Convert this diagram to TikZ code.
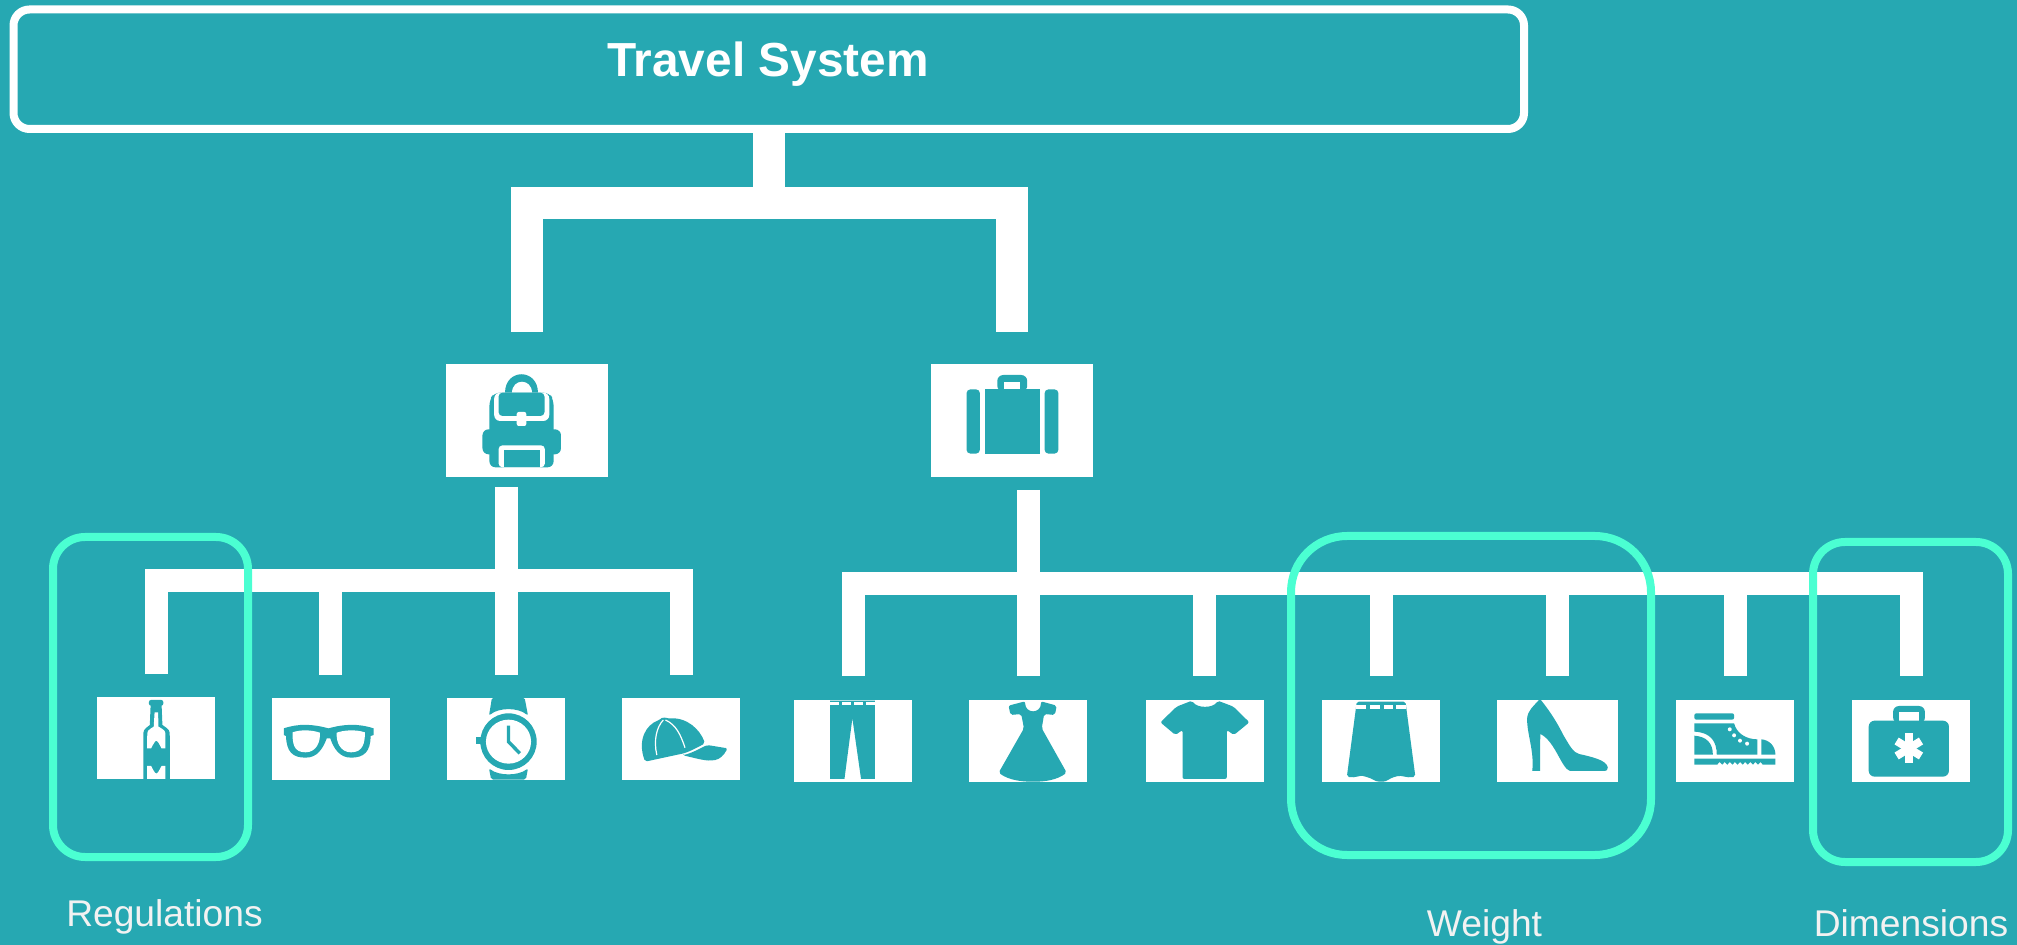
\documentclass[tikz,border=0pt]{standalone}
\usepackage{fontspec}
\setmainfont{Liberation Sans}
\definecolor{seateal}{HTML}{26A8B2}
\definecolor{mintline}{HTML}{4BFFD2}
\definecolor{softwhite}{HTML}{F2F2F2}
\tikzset{
	railthick/.style={draw=white, line width=16pt},
	railthin/.style={draw=white, line width=11.5pt},
	bigicon/.style={fill=white, outer sep=0pt, inner sep=0pt, minimum width=81pt, minimum height=56.5pt},
	smallicon/.style={fill=white, outer sep=0pt, inner sep=0pt, minimum width=59pt, minimum height=41pt},
	groupbox/.style={draw=mintline, line width=4pt, outer sep=0pt, inner sep=0pt},
	grouplabel/.style={anchor=base, text=softwhite, font=\fontsize{18.6}{22}\selectfont},
	traceA/.style={shift={(430,350)}, xscale=0.4337, yscale=0.3333},
	traceB/.style={shift={(80,680)}, xscale=0.4337, yscale=0.3333},
	traceC/.style={shift={(780,680)}, xscale=0.3954, yscale=0.3333},
	traceD/.style={shift={(1400,680)}, xscale=0.3935, yscale=0.3333},
	traceE/.style={shift={(1250,520)}, xscale=0.4892, yscale=0.3333},
}
\begin{document}
\begin{tikzpicture}[x=0.5pt, y=-0.5pt]

	\useasboundingbox (0,0) rectangle (2017,945);
	\fill[seateal] (0,0) rectangle (2017,945);

	\node[draw=white, line width=4pt, rounded corners=8pt, outer sep=0pt, inner sep=0pt, minimum width=755.25pt, minimum height=59.75pt] (system) at (768.75,69.25) {};
	\node[anchor=base, text=white, font=\fontsize{23.9}{28}\selectfont\bfseries] (systemtitle) at (768,77) {Travel System};

	\node[bigicon] (backpack) at (527,420.5) {};
	\node[bigicon] (suitcase) at (1012,420.5) {};

	\node[smallicon] (bottle) at (156,738) {};
	\node[smallicon] (glasses) at (330.5,738.5) {};
	\node[smallicon] (watch) at (506,738.5) {};
	\node[smallicon] (cap) at (681,739) {};

	\node[smallicon] (pants) at (853,741) {};
	\node[smallicon] (dress) at (1028,741) {};
	\node[smallicon] (tshirt) at (1204.5,741) {};
	\node[smallicon] (skirt) at (1381,741) {};
	\node[smallicon, minimum width=60.5pt] (heel) at (1557.5,741) {};
	\node[smallicon] (shoe) at (1735,741) {};
	\node[smallicon] (medkit) at (1911,741) {};

	\coordinate (toprail) at (0,203);
	\coordinate (bagrail) at (0,580.5);
	\coordinate (caserail) at (0,583.25);

	\draw[railthick] (system.south) -- (system.south |- toprail);
	\draw[railthick, shorten <=16pt, shorten >=16pt] (backpack.north) -- (backpack.north |- toprail) -- (suitcase.north |- toprail) -- (suitcase.north);

	\draw[railthin, shorten <=11.5pt, shorten >=11.5pt] (bottle.north) -- (bottle.north |- bagrail) -- (cap.north |- bagrail) -- (cap.north);
	\draw[railthin, shorten <=5pt, shorten >=11.5pt] (backpack.south -| watch.north) -- (watch.north);
	\draw[railthin, shorten >=11.5pt] (glasses.north |- bagrail) -- (glasses.north);

	\draw[railthin, shorten <=12pt, shorten >=12pt] (pants.north) -- (pants.north |- caserail) -- (medkit.north |- caserail) -- (medkit.north);
	\draw[railthin, shorten <=6.5pt, shorten >=12pt] (suitcase.south -| dress.north) -- (dress.north);
	\foreach \drop in {tshirt, skirt, heel, shoe} {
		\draw[railthin, shorten >=12pt] (\drop.north |- caserail) -- (\drop.north);
	}

	% backpack
	\begin{scope}[traceA]
		\fill[seateal] (172,128) .. controls (172,55) and (250,55) .. (250,128) -- cycle;
		\fill[white] (188,128) .. controls (188,85) and (235,85) .. (235,128) -- cycle;
		\fill[seateal, rounded corners=3pt] (137,352) -- (137,150) -- (148,128) -- (275,128) -- (285,150) -- (285,352) -- cycle;
		\fill[seateal, rounded corners=3pt] (121,238) rectangle (302,313);
		\fill[white, rounded corners=3pt] (148,128) -- (148,213) -- (275,213) -- (275,128) -- cycle;
		\fill[seateal, rounded corners=2pt] (158,128) -- (158,198) -- (264,198) -- (264,128) -- cycle;
		\fill[white, rounded corners=1pt] (200,186) rectangle (222,228);
		\fill[white, rounded corners=2pt] (158,352) -- (158,286) -- (265,286) -- (265,352) -- cycle;
		\fill[seateal] (170,352) rectangle (254,300);
	\end{scope}

	% suitcase
	\begin{scope}[traceA]
		\fill[seateal, rounded corners=3pt] (1308,125) -- (1308,75) -- (1377,75) -- (1377,125) -- cycle;
		\fill[white] (1324,118) rectangle (1361,97);
		\fill[seateal] (1279,118) rectangle (1407,311);
		\fill[seateal, rounded corners=2pt] (1237,118) rectangle (1268,311);
		\fill[seateal, rounded corners=2pt] (1417,118) rectangle (1449,311);
	\end{scope}

	% bottle, glasses, watch, cap
	\begin{scope}[traceB]
		\fill[seateal, rounded corners=1pt] (159,77) -- (159,60) -- (192,60) -- (192,77) -- cycle;
		\fill[seateal] (163,70) -- (188,70) -- (190,135) .. controls (207,150) .. (207,170) -- (207,297) -- (146,297) -- (146,170) .. controls (146,150) .. (161,135) -- cycle;
		\fill[white] (172,97) -- (180,97) -- (181,140) .. controls (197,152) .. (197,170) -- (197,205) -- (188,205) .. controls (176,175) .. (164,205) -- (155,205) -- (155,170) .. controls (155,152) .. (170,140) -- cycle;
		\fill[white] (155,258) -- (164,258) .. controls (176,288) .. (188,258) -- (197,258) -- (197,297) -- (155,297) -- cycle;

		\fill[seateal] (470,145) .. controls (505,130) and (535,132) .. (573,145) .. controls (610,132) and (640,130) .. (677,145) -- (677,165) -- (670,168) .. controls (670,215) and (655,233) .. (625,233) .. controls (598,233) and (585,205) .. (577,175) -- (569,175) .. controls (560,205) and (548,233) .. (520,233) .. controls (490,233) and (476,215) .. (475,168) -- (470,165) -- cycle;
		\fill[white] (490,157) .. controls (510,148) and (535,150) .. (553,158) .. controls (555,185) and (545,217) .. (520,217) .. controls (492,217) and (490,190) .. (490,157) -- cycle;
		\fill[white] (592,158) .. controls (610,150) and (635,148) .. (657,157) .. controls (657,190) and (652,217) .. (625,217) .. controls (600,217) and (590,185) .. (592,158) -- cycle;

		\fill[seateal, rounded corners=1pt] (950,52) -- (1025,52) -- (1033,107) .. controls (1010,82) and (966,82) .. (943,107) -- cycle;
		\fill[seateal, rounded corners=1pt] (943,265) .. controls (966,288) and (1010,288) .. (1033,265) -- (1028,299) -- (948,299) -- cycle;
		\fill[seateal] (913,170) rectangle (928,193);
		\fill[seateal] (988,185) ellipse [x radius=65, y radius=85];
		\fill[white] (988,185) ellipse [x radius=52, y radius=66];
		\draw[seateal, line width=1.7pt] (988,137) -- (988,185) -- (1014,220);

		\fill[seateal, rounded corners=1pt] (1303,245) .. controls (1285,180) and (1305,135) .. (1336,120) -- (1345,110) -- (1354,116) .. controls (1400,110) and (1430,150) .. (1441,190) .. controls (1420,205) and (1400,218) .. (1385,222) -- cycle;
		\fill[seateal, rounded corners=1pt] (1390,226) .. controls (1415,217) and (1430,205) .. (1446,195) -- (1493,205) .. controls (1485,225) and (1475,238) .. (1460,241) .. controls (1440,243) and (1415,233) .. (1390,226) -- cycle;
		\draw[white, line width=0.6pt] (1330,225) .. controls (1322,180) and (1330,140) .. (1345,120);
		\draw[white, line width=0.6pt] (1350,120) .. controls (1375,135) and (1385,165) .. (1395,203);
	\end{scope}

	% pants, dress, tshirt
	\begin{scope}[traceC]
		\fill[seateal] (127,62) -- (240,62) -- (240,297) -- (205,297) -- (183,115) -- (163,297) -- (127,297) -- cycle;
		\foreach \dashx in {127,158,188,218} {
			\fill[white] (\dashx,65) rectangle ++(22,10);
		}

		\fill[seateal, rounded corners=1pt] (578,77) -- (620,64) .. controls (620,102) and (660,102) .. (660,64) -- (700,77) -- (695,105) -- (668,102) -- (662,145) -- (725,278) .. controls (700,300) and (670,305) .. (640,305) .. controls (610,305) and (578,300) .. (553,278) -- (617,145) -- (610,102) -- (583,105) -- cycle;

		\fill[seateal, rounded corners=1pt] (1042,62) .. controls (1055,85) and (1095,85) .. (1107,62) -- (1147,80) -- (1187,127) -- (1148,165) -- (1130,150) -- (1130,297) -- (1018,297) -- (1018,150) -- (1000,165) -- (962,127) -- (1003,80) -- cycle;
	\end{scope}

	% skirt
	\begin{scope}[traceE]
		\fill[seateal, rounded corners=1pt] (218,545) -- (318,545) -- (320,570) -- (338,770) .. controls (320,775) and (310,765) .. (298,770) .. controls (285,775) and (280,785) .. (268,785) .. controls (255,785) and (250,775) .. (235,770) .. controls (225,765) and (215,775) .. (198,770) -- (216,570) -- cycle;
		\foreach \dashx in {217,245,273,299} {
			\fill[white] (\dashx,555) rectangle ++(20,13);
		}
	\end{scope}

	% heel, shoe, medkit
	\begin{scope}[traceD]
		\fill[seateal] (353,60) -- (358,60) .. controls (385,100) and (400,130) .. (415,165) .. controls (430,195) and (440,218) .. (455,222) .. controls (485,230) and (525,240) .. (528,262) .. controls (528,270) and (525,273) .. (520,273) -- (432,273) .. controls (410,265) and (395,185) .. (357,162) .. controls (355,200) and (356,240) .. (356,273) -- (336,273) .. controls (342,215) and (322,160) .. (323,115) .. controls (325,90) and (340,78) .. (353,60) -- cycle;

		\fill[seateal, rounded corners=1pt] (748,100) rectangle (849,119);
		\fill[seateal] (748,130) -- (849,130) .. controls (855,160) and (880,178) .. (908,178) -- (908,224) -- (805,224) .. controls (805,185) and (790,157) .. (748,155) -- cycle;
		\fill[seateal] (748,167) .. controls (780,170) and (795,190) .. (795,224) -- (748,224) -- cycle;
		\fill[seateal] (918,178) .. controls (940,180) and (954,200) .. (954,224) -- (918,224) -- cycle;
		\fill[seateal] (748,236) -- (954,236) -- (954,254) -- (922,254) -- (916,246) -- (910,254) -- (903,246) -- (897,254) -- (890,246) -- (884,254) -- (877,246) -- (871,254) -- (864,246) -- (858,254) -- (851,246) -- (845,254) -- (838,246) -- (832,254) -- (825,246) -- (819,254) -- (812,246) -- (806,254) -- (748,254) -- cycle;
		\foreach \lacex/\lacey in {838/148, 849/166, 864/182, 882/191} {
			\fill[white] (\lacex,\lacey) ellipse [x radius=5, y radius=6];
		}

		\fill[seateal, rounded corners=3pt] (1253,130) -- (1253,78) -- (1334,78) -- (1334,130) -- cycle;
		\fill[white] (1268,122) rectangle (1319,97);
		\fill[seateal, rounded corners=3pt] (1191,122) rectangle (1395,290);
		\draw[white, line width=4pt] (1293,160) -- (1293,250);
		\draw[white, line width=4pt] (1262,183) -- (1324,228);
		\draw[white, line width=4pt] (1324,183) -- (1262,228);
	\end{scope}

	\node[groupbox, rounded corners=16pt, minimum width=97.5pt, minimum height=160pt] (regulationsgroup) at (150.5,697) {};
	\node[groupbox, rounded corners=28pt, minimum width=180pt, minimum height=159.5pt] (weightgroup) at (1471,695.5) {};
	\node[groupbox, rounded corners=16pt, minimum width=97.5pt, minimum height=160pt] (dimensionsgroup) at (1910.5,702) {};

	\node[grouplabel] (regulationslabel) at (164.5,926) {Regulations};
	\node[grouplabel] (weightlabel) at (1484.5,936) {Weight};
	\node[grouplabel] (dimensionslabel) at (1911,936) {Dimensions};

\end{tikzpicture}
\end{document}
